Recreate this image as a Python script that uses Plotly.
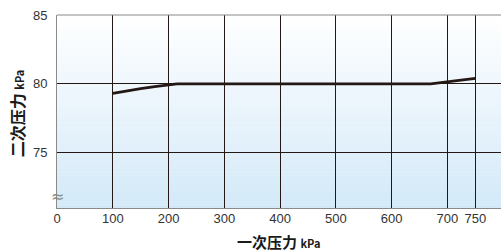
import plotly.graph_objects as go

# Data
primary_kpa = [100, 125, 150, 175, 200, 215, 670, 700, 750]
secondary_kpa = [79.32, 79.5, 79.66, 79.8, 79.93, 80.0, 80.0, 80.15, 80.4]
x_ticks = [0, 100, 200, 300, 400, 500, 600, 700, 750]
y_ticks = [75, 80, 85]
x_range = [0, 796]
y_range = [71, 85]

fig = go.Figure()

# gradient background as thin bands below the grid
n_bands = 60
top_rgb = (255, 255, 255)
bot_rgb = (211, 233, 248)
for i in range(n_bands):
    t = (i + 0.5) / n_bands
    c = tuple(round(bot_rgb[k] + (top_rgb[k] - bot_rgb[k]) * t) for k in range(3))
    fig.add_shape(type='rect', xref='paper', yref='paper',
                  x0=0, x1=1, y0=i / n_bands, y1=(i + 1) / n_bands + 0.002,
                  fillcolor='rgb(%d,%d,%d)' % c, line=dict(width=0), layer='below')

fig.add_trace(go.Scatter(
    x=primary_kpa, y=secondary_kpa, mode='lines',
    line=dict(color='#231815', width=2.8),
    showlegend=False))

tick_font = dict(family='Liberation Sans, Arial, sans-serif', size=13, color='#333333')

fig.update_xaxes(range=x_range, tickvals=x_ticks, ticktext=[str(v) for v in x_ticks],
                 showgrid=True, gridcolor='#231815', gridwidth=1.3,
                 showline=True, linecolor='#8a8a8a', linewidth=1, mirror=False,
                 zeroline=False, ticks='', tickfont=tick_font, ticklabelstandoff=-2)
fig.update_yaxes(range=y_range, tickvals=y_ticks, ticktext=[str(v) for v in y_ticks],
                 showgrid=True, gridcolor='#231815', gridwidth=1.3,
                 showline=True, linecolor='#8a8a8a', linewidth=1,
                 zeroline=False, ticks='', tickfont=tick_font, ticklabelstandoff=6)

# top border (gray)
fig.add_shape(type='line', xref='paper', yref='paper', x0=0, x1=1, y0=1, y1=1,
              line=dict(color='#8a8a8a', width=1.2), layer='above')

title_font = dict(family='Noto Sans CJK SC', size=15, color='#1a1a1a')
fig.add_annotation(text="<b>二次压力 <span style='font-size:11px'>kPa</span></b>",
                   xref='paper', yref='paper', x=-0.088, y=0.49, textangle=-90,
                   showarrow=False, font=dict(family='Noto Sans CJK SC', size=16, color='#1a1a1a'),
                   xanchor='center', yanchor='middle')
fig.add_annotation(text="<b>一次压力 <span style='font-size:11px'>kPa</span></b>",
                   xref='paper', yref='paper', x=0.498, y=-0.172,
                   showarrow=False, font=title_font, xanchor='center', yanchor='middle')
# axis break mark
fig.add_annotation(text="≈", xref='paper', yref='y', x=0, y=71.85,
                   showarrow=False, font=dict(family='DejaVu Sans', size=16, color='#8a8a8a'),
                   xanchor='center', yanchor='middle', borderpad=0)

fig.update_layout(width=501, height=252, margin=dict(l=57, r=0, t=15, b=44),
                  paper_bgcolor='white', plot_bgcolor='white')

fig.write_html("out.html", config={'displayModeBar': False},
               post_script=["document.body.style.margin='0';"])
